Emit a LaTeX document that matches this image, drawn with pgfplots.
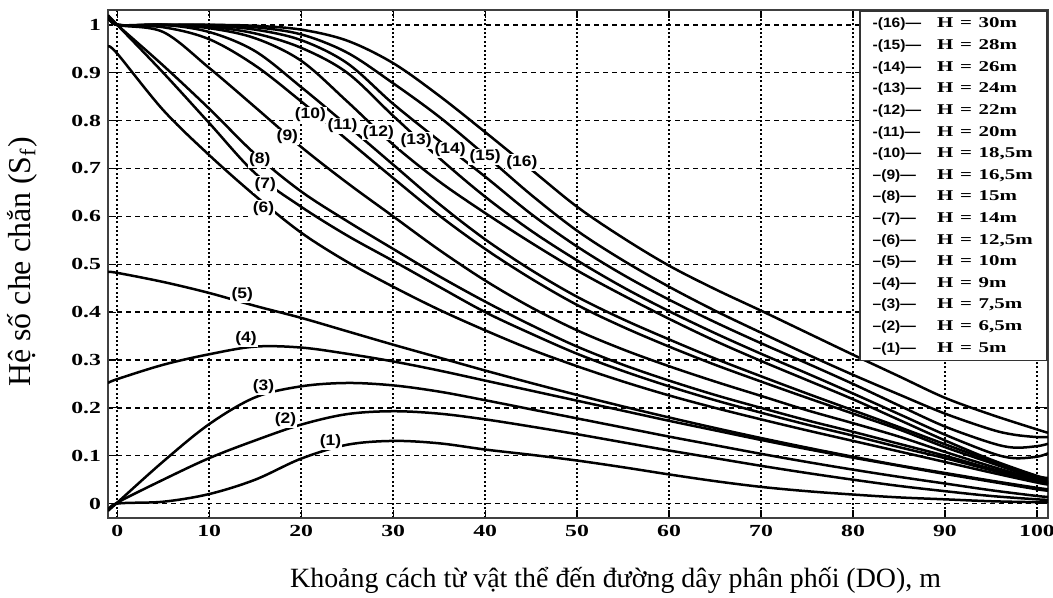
\documentclass[border=0pt]{standalone}
\usepackage{fontspec}
\setmainfont{Liberation Serif}
\newfontfamily\figserif[FakeStretch=1.4]{Liberation Serif}
\newfontfamily\figsans[FakeStretch=1.15]{Liberation Sans}
\usepackage{pgfplots}
\pgfplotsset{compat=1.18}

\begin{document}
\begin{tikzpicture}[lbl/.style={font=\figsans\bfseries\fontsize{7.6}{9}\selectfont, fill=white, inner sep=0.6bp},
  crv/.style={black, solid, line width=1.25bp, smooth, tension=0.55, mark=none}]
\begin{axis}[name=ax, scale only axis, width=470bp, height=254bp,
  xmin=-1, xmax=101.2, ymin=-0.03, ymax=1.031,
  xtick={0,10,20,30,40,50,60,70,80,90,100},
  ytick={0,0.1,0.2,0.3,0.4,0.5,0.6,0.7,0.8,0.9,1},
  yticklabels={0,0.1,0.2,0.3,0.4,0.5,0.6,0.7,0.8,0.9,1},
  tick align=inside, major tick length=4bp,
  tick style={black, line width=0.6bp},
  xmajorgrids, ymajorgrids,
  x grid style={black, line width=0.7bp, dash pattern=on 1bp off 1.2bp},
  y grid style={black, line width=0.7bp, dash pattern=on 2.5bp off 2bp},
  axis line style={black!75, line width=1bp},
  /pgf/number format/assume math mode=true,
  ticklabel style={font=\figserif\bfseries\fontsize{8.5}{10}\selectfont},
  xlabel={Khoảng cách từ vật thể đến đường dây phân phối (DO), m},
  ylabel={Hệ số che chắn (S\textsubscript{f})},
  xlabel style={at={(axis description cs:0.54,-0.122)}, anchor=center, font=\fontsize{14}{16}\selectfont},
  ylabel style={at={(axis description cs:-0.0915,0.504)}, anchor=center, font=\fontsize{16}{18}\selectfont},
]
% (1) H = 5 m
\addplot[crv] coordinates {(-1,-0.015) (0,0) (5,0.004) (10,0.02) (15,0.05) (20,0.094) (25,0.123) (30,0.131) (35,0.126) (40,0.113) (45,0.102) (50,0.09) (55,0.076) (60,0.061) (65,0.047) (70,0.035) (75,0.026) (80,0.019) (85,0.013) (90,0.009) (95,0.005) (100,0.003) (101.2,0.003)};
% (2) H = 6,5 m
\addplot[crv] coordinates {(-1,-0.015) (0,0.002) (5,0.05) (10,0.095) (15,0.132) (20,0.165) (25,0.187) (30,0.193) (35,0.188) (40,0.176) (45,0.161) (50,0.145) (55,0.128) (60,0.111) (65,0.095) (70,0.079) (75,0.064) (80,0.05) (85,0.037) (90,0.026) (95,0.016) (100,0.009) (101.2,0.008)};
% (3) H = 7,5 m
\addplot[crv] coordinates {(-1,-0.015) (0,0.002) (5,0.088) (10,0.166) (15,0.222) (20,0.245) (25,0.252) (30,0.247) (35,0.234) (40,0.216) (45,0.197) (50,0.178) (55,0.159) (60,0.14) (65,0.122) (70,0.104) (75,0.087) (80,0.071) (85,0.056) (90,0.042) (95,0.028) (100,0.016) (101.2,0.014)};
% (4) H = 9 m
\addplot[crv] coordinates {(-1,0.252) (0,0.26) (5,0.29) (10,0.312) (15,0.328) (20,0.326) (25,0.313) (30,0.297) (35,0.278) (40,0.257) (45,0.236) (50,0.215) (55,0.194) (60,0.173) (65,0.153) (70,0.133) (75,0.114) (80,0.096) (85,0.079) (90,0.062) (95,0.046) (100,0.03) (101.2,0.027)};
% (5) H = 10 m
\addplot[crv] coordinates {(-1,0.484) (0,0.482) (5,0.463) (10,0.44) (15,0.413) (20,0.388) (25,0.36) (30,0.332) (35,0.305) (40,0.278) (45,0.252) (50,0.227) (55,0.203) (60,0.18) (65,0.158) (70,0.137) (75,0.117) (80,0.098) (85,0.08) (90,0.064) (95,0.048) (100,0.033) (101.2,0.03)};
% (6) H = 12,5 m
\addplot[crv] coordinates {(-1,0.955) (0,0.94) (5,0.822) (10,0.728) (15,0.643) (20,0.566) (25,0.505) (30,0.453) (35,0.405) (40,0.362) (45,0.322) (50,0.287) (55,0.255) (60,0.226) (65,0.2) (70,0.176) (75,0.153) (80,0.131) (85,0.109) (90,0.087) (95,0.065) (100,0.044) (101.2,0.04)};
% (7) H = 14 m
\addplot[crv] coordinates {(-1,1.02) (0,1.0) (5,0.9) (10,0.795) (15,0.69) (20,0.62) (25,0.56) (30,0.507) (35,0.453) (40,0.40) (45,0.355) (50,0.313) (55,0.277) (60,0.245) (65,0.216) (70,0.19) (75,0.165) (80,0.142) (85,0.118) (90,0.095) (95,0.07) (100,0.046) (101.2,0.042)};
% (8) H = 15 m
\addplot[crv] coordinates {(-1,1.02) (0,1.0) (5,0.915) (10,0.825) (15,0.73) (20,0.652) (25,0.59) (30,0.532) (35,0.475) (40,0.422) (45,0.373) (50,0.328) (55,0.29) (60,0.257) (65,0.227) (70,0.2) (75,0.174) (80,0.15) (85,0.125) (90,0.1) (95,0.073) (100,0.048) (101.2,0.044)};
% (9) H = 16,5 m
\addplot[crv] coordinates {(-1,1.02) (0,1.0) (5,0.985) (10,0.91) (15,0.828) (20,0.745) (25,0.67) (30,0.6) (35,0.53) (40,0.466) (45,0.41) (50,0.362) (55,0.322) (60,0.287) (65,0.255) (70,0.225) (75,0.195) (80,0.168) (85,0.14) (90,0.108) (95,0.078) (100,0.05) (101.2,0.046)};
% (10) H = 18,5 m
\addplot[crv] coordinates {(-1,1.02) (0,1.0) (5,0.995) (10,0.97) (15,0.915) (20,0.84) (25,0.76) (30,0.68) (35,0.602) (40,0.532) (45,0.47) (50,0.415) (55,0.369) (60,0.328) (65,0.29) (70,0.255) (75,0.221) (80,0.188) (85,0.155) (90,0.118) (95,0.085) (100,0.052) (101.2,0.048)};
% (11) H = 20 m
\addplot[crv] coordinates {(-1,1.02) (0,1.0) (5,1.0) (10,0.985) (15,0.945) (20,0.87) (25,0.79) (30,0.708) (35,0.626) (40,0.552) (45,0.488) (50,0.432) (55,0.385) (60,0.343) (65,0.303) (70,0.266) (75,0.23) (80,0.195) (85,0.16) (90,0.124) (95,0.089) (100,0.054) (101.2,0.05)};
% (12) H = 22 m
\addplot[crv] coordinates {(-1,1.02) (0,1.0) (5,1.0) (10,0.993) (15,0.972) (20,0.925) (25,0.84) (30,0.75) (35,0.673) (40,0.607) (45,0.545) (50,0.487) (55,0.435) (60,0.386) (65,0.34) (70,0.298) (75,0.258) (80,0.218) (85,0.175) (90,0.132) (95,0.092) (100,0.058) (101.2,0.054)};
% (13) H = 24 m
\addplot[crv] coordinates {(-1,1.02) (0,1.0) (5,1.0) (10,0.996) (15,0.982) (20,0.952) (25,0.9) (30,0.81) (35,0.722) (40,0.641) (45,0.57) (50,0.508) (55,0.452) (60,0.402) (65,0.356) (70,0.313) (75,0.272) (80,0.23) (85,0.187) (90,0.144) (95,0.106) (97.5,0.095) (100,0.098) (101.2,0.105)};
% (14) H = 26 m
\addplot[crv] coordinates {(-1,1.02) (0,1.0) (5,1.0) (10,0.998) (15,0.99) (20,0.968) (25,0.92) (30,0.835) (35,0.758) (40,0.683) (45,0.605) (50,0.537) (55,0.478) (60,0.426) (65,0.379) (70,0.335) (75,0.293) (80,0.25) (85,0.205) (90,0.161) (95,0.127) (97.5,0.117) (100,0.12) (101.2,0.125)};
% (15) H = 28 m
\addplot[crv] coordinates {(-1,1.02) (0,1.0) (5,1.0) (10,1.0) (15,0.995) (20,0.98) (25,0.942) (30,0.878) (35,0.808) (40,0.728) (45,0.645) (50,0.57) (55,0.508) (60,0.453) (65,0.403) (70,0.357) (75,0.312) (80,0.269) (85,0.228) (90,0.188) (95,0.155) (97.5,0.144) (100,0.139) (101.2,0.139)};
% (16) H = 30 m
\addplot[crv] coordinates {(-1,1.02) (0,1.0) (5,1.0) (10,1.0) (15,0.998) (20,0.99) (25,0.967) (30,0.92) (35,0.852) (40,0.776) (45,0.698) (50,0.62) (55,0.555) (60,0.497) (65,0.448) (70,0.403) (75,0.357) (80,0.311) (85,0.266) (90,0.221) (95,0.186) (100,0.155) (101.2,0.148)};
\node[lbl] at (axis cs:23.2,0.13)  {(1)};
\node[lbl] at (axis cs:18.3,0.175) {(2)};
\node[lbl] at (axis cs:15.9,0.245) {(3)};
\node[lbl] at (axis cs:14.0,0.344) {(4)};
\node[lbl] at (axis cs:13.6,0.436) {(5)};
\node[lbl] at (axis cs:15.9,0.616) {(6)};
\node[lbl] at (axis cs:16.1,0.666) {(7)};
\node[lbl] at (axis cs:15.5,0.718) {(8)};
\node[lbl] at (axis cs:18.5,0.766) {(9)};
\node[lbl] at (axis cs:21.0,0.812) {(10)};
\node[lbl] at (axis cs:24.5,0.789) {(11)};
\node[lbl] at (axis cs:28.4,0.776) {(12)};
\node[lbl] at (axis cs:32.5,0.758) {(13)};
\node[lbl] at (axis cs:36.2,0.739) {(14)};
\node[lbl] at (axis cs:40.0,0.724) {(15)};
\node[lbl] at (axis cs:44.0,0.712) {(16)};
\node[draw=black!80, line width=0.8bp, fill=white, anchor=north east, inner xsep=6bp, inner ysep=1bp,
      minimum width=93.5bp, text width=81bp] at (rel axis cs:1,1) {%
  \fontsize{7.5}{10.85}\selectfont
  \begin{tabular}{@{}l@{\hspace{8bp}}l@{}}
  {\figsans\bfseries\fontsize{6.8}{8}\selectfont -(16)—} & {\figserif\bfseries H = 30m}\\
  {\figsans\bfseries\fontsize{6.8}{8}\selectfont -(15)—} & {\figserif\bfseries H = 28m}\\
  {\figsans\bfseries\fontsize{6.8}{8}\selectfont -(14)—} & {\figserif\bfseries H = 26m}\\
  {\figsans\bfseries\fontsize{6.8}{8}\selectfont -(13)—} & {\figserif\bfseries H = 24m}\\
  {\figsans\bfseries\fontsize{6.8}{8}\selectfont -(12)—} & {\figserif\bfseries H = 22m}\\
  {\figsans\bfseries\fontsize{6.8}{8}\selectfont -(11)—} & {\figserif\bfseries H = 20m}\\
  {\figsans\bfseries\fontsize{6.8}{8}\selectfont -(10)—} & {\figserif\bfseries H = 18,5m}\\
  {\figsans\bfseries\fontsize{6.8}{8}\selectfont –(9)—} & {\figserif\bfseries H = 16,5m}\\
  {\figsans\bfseries\fontsize{6.8}{8}\selectfont –(8)—} & {\figserif\bfseries H = 15m}\\
  {\figsans\bfseries\fontsize{6.8}{8}\selectfont –(7)—} & {\figserif\bfseries H = 14m}\\
  {\figsans\bfseries\fontsize{6.8}{8}\selectfont –(6)—} & {\figserif\bfseries H = 12,5m}\\
  {\figsans\bfseries\fontsize{6.8}{8}\selectfont –(5)—} & {\figserif\bfseries H = 10m}\\
  {\figsans\bfseries\fontsize{6.8}{8}\selectfont –(4)—} & {\figserif\bfseries H = 9m}\\
  {\figsans\bfseries\fontsize{6.8}{8}\selectfont –(3)—} & {\figserif\bfseries H = 7,5m}\\
  {\figsans\bfseries\fontsize{6.8}{8}\selectfont –(2)—} & {\figserif\bfseries H = 6,5m}\\
  {\figsans\bfseries\fontsize{6.8}{8}\selectfont –(1)—} & {\figserif\bfseries H = 5m}
  \end{tabular}};
\end{axis}
\pgfresetboundingbox
\path ([xshift=-54bp,yshift=-40bp]ax.south west) rectangle ([xshift=2.5bp,yshift=5bp]ax.north east);
\end{tikzpicture}
\end{document}
